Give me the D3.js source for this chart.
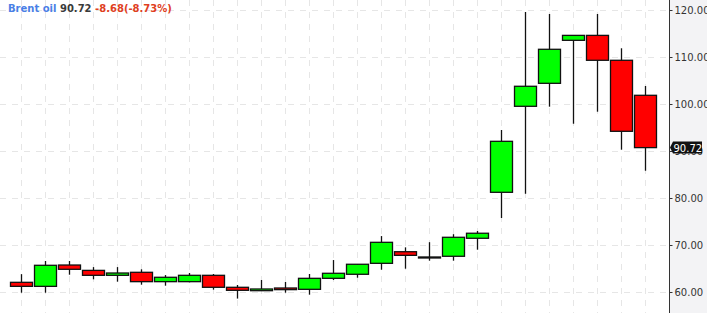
<!DOCTYPE html>
<html>
<head>
<meta charset="utf-8">
<script src="https://cdn.jsdelivr.net/npm/d3@7"></script>
<style>
  body { margin: 0; background: #fff; }
  svg { display: block; font-family: "DejaVu Sans", Verdana, sans-serif; }
</style>
</head>
<body>
<div id="chart"></div>
<script>
// candle values, oldest first
var opens  = [62.06, 61.2, 65.74, 64.6, 63.55, 64.19, 62.2, 62.2, 63.55, 61.0,
              60.28, 60.85, 60.57, 62.91, 63.77, 66.1, 68.57, 67.4, 67.6, 71.43,
              81.21, 99.51, 104.4, 113.55, 114.6, 109.3, 101.85];
var closes = [61.2, 65.68, 64.83, 63.55, 64.04, 62.2, 63.13, 63.55, 61.0, 60.36,
              60.64, 60.5, 62.91, 63.98, 65.9, 70.57, 67.8, 67.45, 71.64, 72.5,
              92.06, 103.77, 111.64, 114.6, 109.3, 94.19, 90.72];
var highs  = [63.8, 66.6, 66.6, 65.3, 65.3, 64.83, 63.6, 64.04, 63.83, 61.49,
              62.55, 62.13, 63.83, 66.8, 65.9, 71.9, 69.5, 70.6, 72.3, 72.98,
              94.47, 119.57, 119.15, 114.6, 119.15, 111.85, 103.83];
var lows   = [59.85, 59.85, 63.68, 62.7, 62.2, 61.55, 61.34, 62.06, 60.5, 58.6,
              60.28, 59.85, 59.43, 62.55, 63.04, 64.74, 64.96, 66.66, 66.66, 69.0,
              75.74, 80.9, 99.43, 95.8, 98.36, 90.28, 85.8];
var yTicks = [60, 70, 80, 90, 100, 110, 120];
var lastPrice = 90.72;
var titleParts = [
  { text: "Brent oil ", color: "#4a7fe6" },
  { text: "90.72 ", color: "#3a3a3a" },
  { text: "-8.68(-8.73%)", color: "#e0401e" }
];

var W = 707, H = 313, axisX = 669;

var svg = d3.select("#chart").append("svg")
    .attr("width", W)
    .attr("height", H);

// right hand axis panel
svg.append("rect")
    .attr("x", axisX).attr("y", 0)
    .attr("width", W - axisX).attr("height", H)
    .attr("fill", "#f3f3f5");

var idx = d3.range(opens.length);

var x = d3.scaleLinear()
    .domain([0, opens.length - 1])
    .range([20.7, 644.7]);

var y = d3.scaleLinear()
    .domain([60, 120])
    .range([292, 10]);

// dashed grid
svg.append("g").selectAll("line")
    .data(idx)
    .enter().append("line")
    .attr("x1", function (d) { return Math.round(x(d)) + 0.5; })
    .attr("x2", function (d) { return Math.round(x(d)) + 0.5; })
    .attr("y1", 0).attr("y2", H)
    .attr("stroke", "#e6e6e6")
    .attr("stroke-dasharray", "6,6");

svg.append("g").selectAll("line")
    .data(yTicks)
    .enter().append("line")
    .attr("x1", 0).attr("x2", axisX)
    .attr("y1", function (d) { return Math.round(y(d)) + 0.5; })
    .attr("y2", function (d) { return Math.round(y(d)) + 0.5; })
    .attr("stroke", "#e6e6e6")
    .attr("stroke-dasharray", "6,6");

// axis on the right
var yAxis = d3.axisRight(y)
    .tickValues(yTicks)
    .tickSize(3)
    .tickPadding(2)
    .tickFormat(d3.format(".2f"));

var gy = svg.append("g")
    .attr("transform", "translate(" + (axisX + 0.5) + ",0)")
    .call(yAxis)
    .attr("font-family", "DejaVu Sans, Verdana, sans-serif");
gy.select(".domain").attr("d", "M0,0V" + H).attr("stroke", "#333");
gy.selectAll(".tick line").attr("stroke", "#333");
gy.selectAll(".tick text")
    .attr("fill", "#333")
    .style("font-size", "10px");

// candles
var bodyW = 22;
var candles = svg.append("g").selectAll("g")
    .data(idx)
    .enter().append("g");

candles.append("line")
    .attr("x1", function (d) { return Math.round(x(d)) + 0.5; })
    .attr("x2", function (d) { return Math.round(x(d)) + 0.5; })
    .attr("y1", function (d) { return y(highs[d]); })
    .attr("y2", function (d) { return y(lows[d]); })
    .attr("stroke", "#111")
    .attr("stroke-width", 1.3);

candles.append("rect")
    .attr("x", function (d) { return Math.round(x(d)) - bodyW / 2 + 0.5; })
    .attr("y", function (d) { return y(Math.max(opens[d], closes[d])); })
    .attr("width", bodyW)
    .attr("height", function (d) {
        return Math.max(1, Math.abs(y(opens[d]) - y(closes[d])));
    })
    .attr("fill", function (d) { return closes[d] >= opens[d] ? "#00ff00" : "#ff0000"; })
    .attr("stroke", "#111")
    .attr("stroke-width", 1.3);

// last price tag, drawn over the axis label like the original
var py = y(lastPrice);
var tag = svg.append("g");
tag.append("path")
    .attr("d", "M" + (axisX + 1) + "," + py + "L" + (axisX + 4) + "," + (py - 6) +
        "H" + (W - 5) + "V" + (py + 6) + "H" + (axisX + 4) + "Z")
    .attr("fill", "#111");
tag.append("text")
    .attr("x", axisX + 4.5)
    .attr("y", py + 4)
    .attr("fill", "#fff")
    .style("font-size", "10px")
    .text(d3.format(".2f")(lastPrice));

// title
var title = svg.append("text")
    .attr("x", 8)
    .attr("y", 12)
    .style("font-size", "10px")
    .style("font-weight", "bold");
title.selectAll("tspan")
    .data(titleParts)
    .enter().append("tspan")
    .attr("fill", function (d) { return d.color; })
    .text(function (d) { return d.text; });
</script>
</body>
</html>
